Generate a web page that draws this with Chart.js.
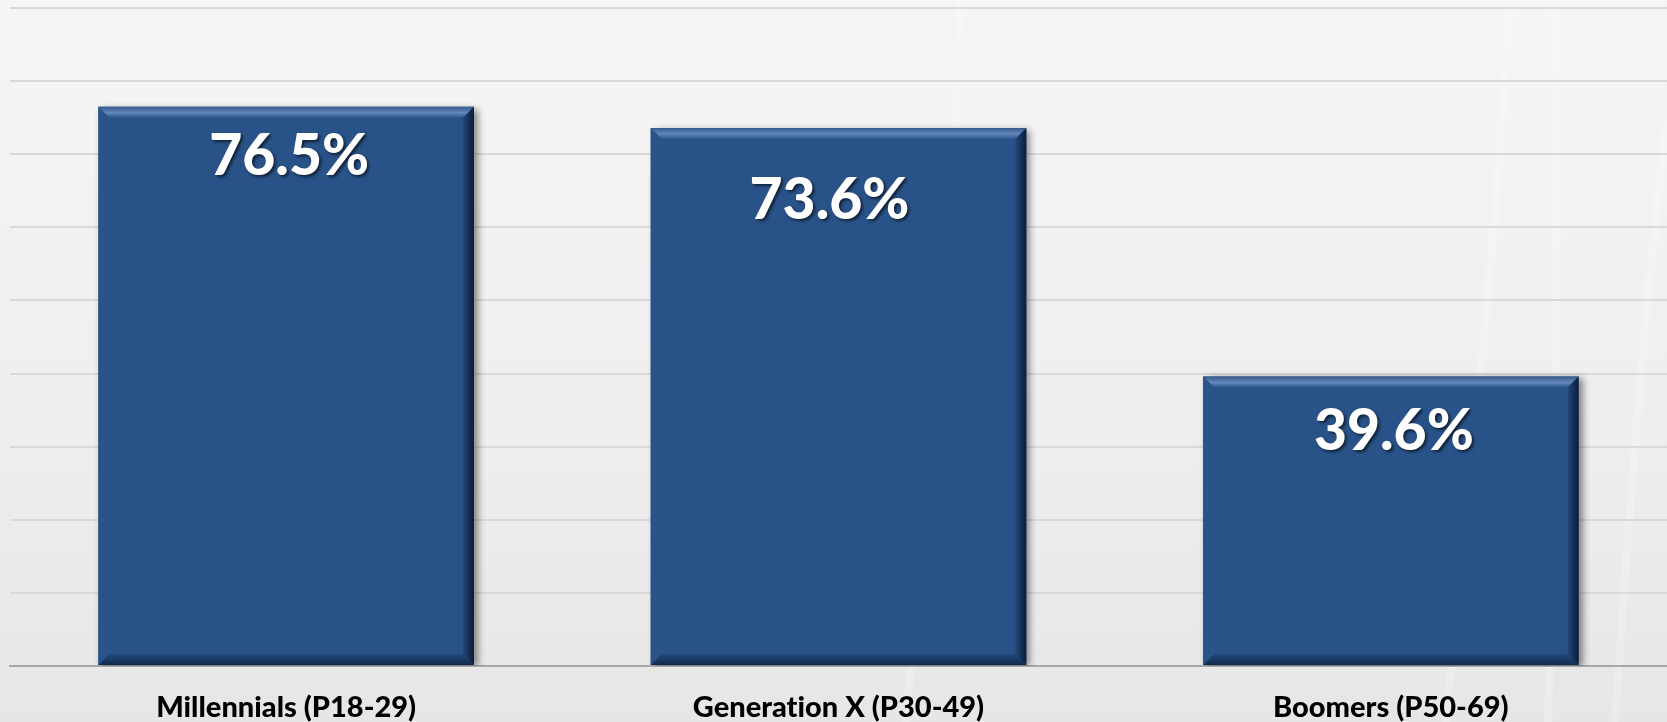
<!DOCTYPE html>
<html>
<head>
<meta charset="utf-8">
<script src="https://cdn.jsdelivr.net/npm/chart.js@4.4.1/dist/chart.umd.min.js"></script>
<style>
  html, body { margin: 0; padding: 0; background: #efefef; }
  #wrap { width: 1667px; height: 722px; position: relative; }
</style>
</head>
<body>
<div id="wrap"><canvas id="c" width="1667" height="722"></canvas></div>
<script>
const categories = ["Millennials (P18-29)", "Generat\u200Cion X (P30-49)", "Boomers (P50-69)"];
const shareValues = [76.5, 73.6, 39.6];
const valueLabels = ["76.5%", "73.6%", "39.6%"];
const yMin = 0, yMax = 90, yStep = 10;

const bgPlugin = {
  id: 'bg',
  beforeDraw(chart) {
    const { ctx, width, height } = chart;
    ctx.save();
    const g = ctx.createLinearGradient(0, 0, 0, height);
    g.addColorStop(0, '#f5f5f5');
    g.addColorStop(0.6, '#eeeeee');
    g.addColorStop(1, '#e6e6e6');
    ctx.fillStyle = g;
    ctx.fillRect(0, 0, width, height);
    ctx.strokeStyle = 'rgba(255,255,255,0.22)';
    ctx.lineWidth = 8;
    ctx.beginPath();
    ctx.moveTo(1510, 0); ctx.bezierCurveTo(1495, 250, 1470, 500, 1445, 722);
    ctx.moveTo(1555, 0); ctx.bezierCurveTo(1560, 250, 1555, 500, 1548, 722);
    ctx.moveTo(1667, 120); ctx.bezierCurveTo(1645, 300, 1630, 500, 1615, 722);
    ctx.moveTo(960, 0); ctx.bezierCurveTo(950, 250, 930, 500, 905, 722);
    ctx.stroke();
    ctx.restore();
  }
};

const shadowPlugin = {
  id: 'barShadow',
  beforeDatasetDraw(chart) {
    const ctx = chart.ctx;
    ctx.save();
    ctx.shadowColor = 'rgba(0,0,0,0.45)';
    ctx.shadowBlur = 7;
    ctx.shadowOffsetX = 4;
    ctx.shadowOffsetY = 2;
  },
  afterDatasetDraw(chart) {
    chart.ctx.restore();
  }
};

const bevelPlugin = {
  id: 'bevel',
  afterDatasetsDraw(chart, args, opts) {
    const ctx = chart.ctx;
    const meta = chart.getDatasetMeta(0);
    const b = 11;
    meta.data.forEach((bar, i) => {
      const left = bar.x - bar.width / 2;
      const right = bar.x + bar.width / 2;
      const top = bar.y;
      const bottom = bar.base;
      ctx.save();
      let g = ctx.createLinearGradient(0, top, 0, top + b);
      g.addColorStop(0, '#35598c');
      g.addColorStop(0.55, '#6388bb');
      g.addColorStop(1, '#2c578e');
      ctx.fillStyle = g;
      ctx.beginPath();
      ctx.moveTo(left, top); ctx.lineTo(right, top);
      ctx.lineTo(right - b, top + b); ctx.lineTo(left + b, top + b);
      ctx.closePath(); ctx.fill();
      g = ctx.createLinearGradient(right - b, 0, right, 0);
      g.addColorStop(0, '#22487a');
      g.addColorStop(1, '#0b1c38');
      ctx.fillStyle = g;
      ctx.beginPath();
      ctx.moveTo(right, top); ctx.lineTo(right, bottom);
      ctx.lineTo(right - b, bottom - b); ctx.lineTo(right - b, top + b);
      ctx.closePath(); ctx.fill();
      g = ctx.createLinearGradient(0, bottom - b, 0, bottom);
      g.addColorStop(0, '#234a7c');
      g.addColorStop(1, '#132a4d');
      ctx.fillStyle = g;
      ctx.beginPath();
      ctx.moveTo(left, bottom); ctx.lineTo(right, bottom);
      ctx.lineTo(right - b, bottom - b); ctx.lineTo(left + b, bottom - b);
      ctx.closePath(); ctx.fill();
      ctx.fillStyle = '#2a5489';
      ctx.beginPath();
      ctx.moveTo(left, top); ctx.lineTo(left + b, top + b);
      ctx.lineTo(left + b, bottom - b); ctx.lineTo(left, bottom);
      ctx.closePath(); ctx.fill();
      const off = opts.labelOffsets[i] || [0, 50];
      ctx.font = '900 57px Lato, "Open Sans", sans-serif';
      ctx.textAlign = 'center';
      ctx.textBaseline = 'middle';
      ctx.shadowColor = 'rgba(0,0,0,0.6)';
      ctx.shadowBlur = 3;
      ctx.shadowOffsetX = 2;
      ctx.shadowOffsetY = 2;
      ctx.fillStyle = '#ffffff';
      ctx.fillText(valueLabels[i], bar.x + off[0], top + off[1]);
      ctx.restore();
    });
  }
};

new Chart(document.getElementById('c'), {
  type: 'bar',
  data: {
    labels: categories,
    datasets: [{
      data: shareValues,
      backgroundColor: '#285288',
      borderWidth: 0,
      barPercentage: 0.68,
      categoryPercentage: 1.0
    }]
  },
  options: {
    responsive: false,
    animation: false,
    devicePixelRatio: 1,
    layout: { padding: { left: 10, right: 0, top: 8, bottom: 0 } },
    plugins: {
      legend: { display: false },
      tooltip: { enabled: false },
      bevel: { labelOffsets: [[3, 50], [-9, 73], [3, 55]] }
    },
    scales: {
      x: {
        grid: { display: false, drawTicks: false },
        border: { display: true, color: '#a8a8a8', width: 2 },
        afterFit(scale) { scale.height = 56; },
        ticks: {
          color: '#000000',
          padding: 24,
          font: { family: 'Lato, "Open Sans", sans-serif', size: 29, weight: '900', lineHeight: 1.2 }
        }
      },
      y: {
        min: yMin, max: yMax,
        ticks: { display: false, stepSize: yStep },
        grid: { color: '#d9d9d9', lineWidth: 2, drawTicks: false },
        border: { display: false }
      }
    }
  },
  plugins: [bgPlugin, shadowPlugin, bevelPlugin]
});
</script>
</body>
</html>
